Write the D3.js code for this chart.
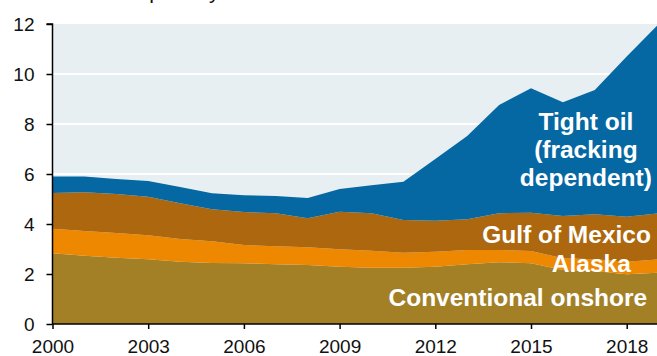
<!DOCTYPE html>
<html>
<head>
<meta charset="utf-8">
<script src="https://cdn.jsdelivr.net/npm/d3@7"></script>
<style>
  body { margin: 0; background: #fff; }
  svg { display: block; font-family: "Liberation Sans", Arial, sans-serif; }
</style>
</head>
<body>
<div id="chart"></div>
<script>
let width = 657;
let height = 356;
let margin = { top: 24, bottom: 32, left: 52.5, right: 0 };

// production, million barrels per day
const years = [2000, 2001, 2002, 2003, 2004, 2005, 2006, 2007, 2008, 2009,
  2010, 2011, 2012, 2013, 2014, 2015, 2016, 2017, 2018, 2019];
const conventional = [2.83, 2.73, 2.65, 2.59, 2.49, 2.44, 2.43, 2.39, 2.36, 2.29,
  2.25, 2.25, 2.29, 2.39, 2.47, 2.43, 2.16, 2.12, 1.99, 2.05];
const alaska = [0.98, 0.99, 0.99, 0.96, 0.91, 0.87, 0.73, 0.72, 0.71, 0.70,
  0.68, 0.60, 0.60, 0.57, 0.49, 0.49, 0.47, 0.47, 0.50, 0.54];
const gulf = [1.43, 1.55, 1.56, 1.54, 1.43, 1.28, 1.32, 1.32, 1.16, 1.50,
  1.50, 1.31, 1.24, 1.23, 1.47, 1.53, 1.69, 1.80, 1.80, 1.84];
const tightOil = [0.66, 0.63, 0.60, 0.63, 0.65, 0.64, 0.67, 0.69, 0.81, 0.91,
  1.12, 1.53, 2.47, 3.33, 4.33, 4.98, 4.55, 4.97, 6.41, 7.57];

const keys = ["conventional", "alaska", "gulf", "tightOil"];
const colors = ["#a38026", "#ee8800", "#ad680f", "#0568a3"];
const xTicks = [2000, 2003, 2006, 2009, 2012, 2015, 2018];
const yTicks = [0, 2, 4, 6, 8, 10, 12];

// label anchors in data units
const labels = [
  { lines: ["Tight oil", "(fracking", "dependent)"], year: 2016.72, value: 7.76, anchor: "middle" },
  { lines: ["Gulf of Mexico"], year: 2018.76, value: 3.24, anchor: "end" },
  { lines: ["Alaska"], year: 2018.13, value: 2.09, anchor: "end" },
  { lines: ["Conventional onshore"], year: 2018.64, value: 0.72, anchor: "end" },
];

let table = years.map((y, i) => ({
  year: y,
  conventional: conventional[i],
  alaska: alaska[i],
  gulf: gulf[i],
  tightOil: tightOil[i],
}));

let x = d3.scaleLinear().domain([2000, 2019]).range([margin.left, 658.6]);
let y = d3.scaleLinear().domain([0, 12]).range([height - margin.bottom, margin.top]);

let svg = d3
  .select("#chart")
  .append("svg")
  .attr("width", width)
  .attr("height", height);

// title, mostly cut off at the top
svg.append("text")
  .attr("x", 14)
  .attr("y", -1.5)
  .style("font-size", "21px")
  .attr("fill", "#111")
  .text("Million barrels per day");

svg.append("rect")
  .attr("x", x(2000))
  .attr("y", y(12))
  .attr("width", width - x(2000))
  .attr("height", y(0) - y(12))
  .attr("fill", "#e8eff3");

svg.append("g")
  .selectAll("line")
  .data(yTicks.filter((t) => t > 0 && t < 12))
  .enter()
  .append("line")
  .attr("x1", x(2000))
  .attr("x2", width)
  .attr("y1", (d) => y(d))
  .attr("y2", (d) => y(d))
  .attr("stroke", "#fff")
  .attr("stroke-width", 2);

let series = d3.stack().keys(keys)(table);

let area = d3
  .area()
  .x((d) => x(d.data.year))
  .y0((d) => y(d[0]))
  .y1((d) => y(d[1]));

svg.append("g")
  .selectAll("path")
  .data(series)
  .enter()
  .append("path")
  .attr("d", area)
  .attr("fill", (d, i) => colors[i]);

// axes
let yAxis = svg.append("g")
  .attr("transform", `translate(${x(2000)},0)`)
  .call(d3.axisLeft(y).tickValues(yTicks).tickSize(6).tickPadding(12));
let xAxis = svg.append("g")
  .attr("transform", `translate(0,${y(0)})`)
  .call(d3.axisBottom(x).tickValues(xTicks).tickFormat(d3.format("d")).tickSize(5).tickPadding(11));

[yAxis, xAxis].forEach((a) => {
  a.select(".domain").attr("stroke", "#000").attr("stroke-width", 1.5);
  a.selectAll(".tick line").attr("stroke", "#000").attr("stroke-width", 1.5);
  a.selectAll("text")
    .attr("fill", "#111")
    .style("font-size", "19px")
    .style("font-family", "Liberation Sans, Arial, sans-serif");
});
yAxis.select(".domain").attr("d", `M-6,${y(12)}H0V${y(0)}`);
xAxis.select(".domain").attr("d", `M${x(2000)},0H${width}`);

// series labels
labels.forEach((l) => {
  let t = svg.append("text")
    .attr("x", x(l.year))
    .attr("y", y(l.value))
    .attr("text-anchor", l.anchor)
    .attr("fill", "#fff")
    .style("font-size", "24.5px")
    .style("font-weight", "bold");
  l.lines.forEach((line, i) => {
    t.append("tspan")
      .attr("x", x(l.year))
      .attr("dy", i === 0 ? 0 : 28)
      .text(line);
  });
});
</script>
</body>
</html>
